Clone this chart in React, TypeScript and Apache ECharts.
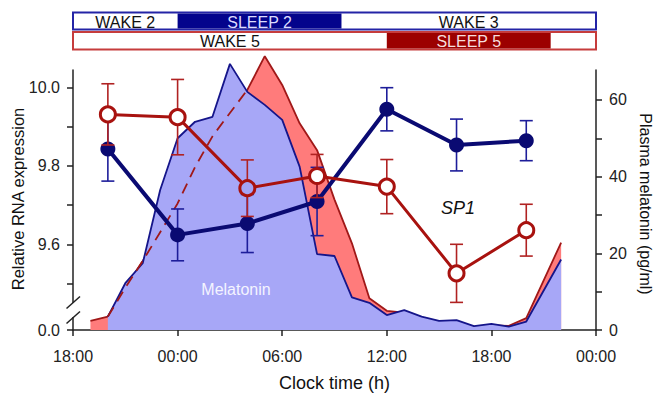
import React, { useEffect, useRef } from 'react';
import * as echarts from 'echarts';

// ---- data ----
const xTickHours = [0, 6, 12, 18, 24, 30]; // hours since 18:00
const startClock = 18;

const rnaHours = [2, 6, 10, 14, 18, 22, 26];
const sleep2Rna = [9.843, 9.624, 9.653, 9.709, 9.944, 9.853, 9.864];
const sleep2Err = [0.082, 0.066, 0.074, 0.087, 0.055, 0.066, 0.051];
const wake5Rna = [9.931, 9.924, 9.743, 9.774, 9.747, 9.526, 9.636];
const wake5Err = [0.078, 0.096, 0.072, 0.055, 0.069, 0.074, 0.066];

const melHours = [1, 2, 3, 4, 5, 6, 7, 8, 9, 10, 11, 12, 13, 14, 15, 16, 17, 18, 19, 20, 21, 22, 23, 24, 25, 26, 28];
const melWake5 = [2.4, 3.5, 11, 18, 25.5, 33, 42.5, 50.5, 56.6, 62.6, 71.4, 63.9, 53.9, 46.9, 34, 22.6, 8.3, 5.0, 4.5, 3.0, 2.0, 2.0, 0.8, 1.2, 1.1, 3.1, 22.8];
const melSleep2 = [null, 3.5, 12.2, 17.4, 36.5, 50, 54.3, 55.6, 69.4, 62.1, 58.7, 54.8, 42.6, 19.8, 19.3, 8.5, 7.1, 3.9, 5.2, 3.5, 2.4, 2.6, 1.0, 1.6, 0.9, 2.2, 18.4];
const dashedRange = [2, 10];

const rnaLabelTicks = [9.6, 9.8, 10.0];
const rnaMinorTicks = [9.5, 9.6, 9.7, 9.8, 9.9, 10.0];
const melLabelTicks = [0, 20, 40, 60];
const melMinorTicks = [0, 10, 20, 30, 40, 50, 60];

const blueBar = [
  { label: 'WAKE 2', from: 0, to: 6, filled: false },
  { label: 'SLEEP 2', from: 6, to: 15.4, filled: true },
  { label: 'WAKE 3', from: 15.4, to: 30, filled: false },
];
const redBar = [
  { label: 'WAKE 5', from: 0, to: 18, filled: false },
  { label: 'SLEEP 5', from: 18, to: 27.4, filled: true },
  { label: '', from: 27.4, to: 30, filled: false },
];

// ---- layout ----
const W = 660, H = 395;
const GL = 73, GR = 64, GT = 70, GB = 65;
const X_MIN = 0, X_MAX = 30;
const RNA_PX = 392.5; // px per 1.0 unit
const RNA_MIN = 9.6 - 85.7 / RNA_PX;
const RNA_MAX = RNA_MIN + (H - GT - GB) / RNA_PX;
const MEL_MAX = 67.8;
const FONT = '"Liberation Sans", Arial, Helvetica, sans-serif';

const px = (h: number) => GL + ((h - X_MIN) / (X_MAX - X_MIN)) * (W - GL - GR);
const clock = (h: number) => {
  const c = ((startClock + h) % 24 + 24) % 24;
  return (c < 10 ? '0' : '') + c + ':00';
};

const BLUE = '#0a0a72';
const RED = '#a8120f';

function errSeries(hours: number[], vals: number[], errs: number[], color: string, z: number) {
  return {
    type: 'custom',
    xAxisIndex: 0,
    yAxisIndex: 0,
    z,
    silent: true,
    data: hours.map((h, i) => [h, vals[i], errs[i]]),
    encode: { x: 0, y: 1 },
    renderItem: (params: any, api: any) => {
      const x = api.value(0), y = api.value(1), e = api.value(2);
      const top = api.coord([x, y + e]);
      const bot = api.coord([x, y - e]);
      const hw = 6.5;
      const style = { stroke: color, lineWidth: 1.6, fill: 'none' };
      return {
        type: 'group',
        children: [
          { type: 'line', shape: { x1: top[0], y1: top[1], x2: bot[0], y2: bot[1] }, style },
          { type: 'line', shape: { x1: top[0] - hw, y1: top[1], x2: top[0] + hw, y2: top[1] }, style },
          { type: 'line', shape: { x1: bot[0] - hw, y1: bot[1], x2: bot[0] + hw, y2: bot[1] }, style },
        ],
      };
    },
  };
}

function barGraphics(bar: any[], y: number, h: number, border: string, fill: string, fillText: string) {
  const els: any[] = [];
  els.push({
    type: 'rect', shape: { x: px(X_MIN), y, width: px(X_MAX) - px(X_MIN), height: h },
    style: { fill: '#fff', stroke: border, lineWidth: 2 }, z: 10,
  });
  bar.forEach((b) => {
    if (b.filled) {
      els.push({
        type: 'rect', shape: { x: px(b.from), y: y + 1, width: px(b.to) - px(b.from), height: h - 2 },
        style: { fill }, z: 11,
      });
    }
    if (b.label) {
      els.push({
        type: 'text', x: (px(b.from) + px(b.to)) / 2, y: y + h / 2 + 1, z: 12,
        style: {
          text: b.label, fontSize: 16, fontFamily: FONT, fill: b.filled ? fillText : '#111',
          align: 'center', verticalAlign: 'middle', textAlign: 'center', textVerticalAlign: 'middle',
        },
      });
    }
  });
  return els;
}

function txt(text: string, x: number, y: number, size: number, extra: any = {}, rotation = 0) {
  return {
    type: 'text', x, y, rotation, z: 20,
    style: {
      text, fontSize: size, fontFamily: FONT, fill: '#111',
      align: 'center', verticalAlign: 'middle', textAlign: 'center', textVerticalAlign: 'middle',
      ...extra,
    },
  };
}

export default function App() {
  const ref = useRef<HTMLDivElement>(null);
  useEffect(() => {
    if (!ref.current) return;
    const chart = echarts.init(ref.current, null, { renderer: 'svg' });
    const axisColor = '#222';
    const melPairs = (vals: (number | null)[]) => melHours.map((h, i) => [h, vals[i]]);
    const dashed = melHours
      .map((h, i) => [h, melWake5[i]])
      .filter((p) => (p[0] as number) >= dashedRange[0] && (p[0] as number) <= dashedRange[1]);

    const option: any = {
      animation: false,
      grid: { left: GL, right: GR, top: GT, bottom: GB, containLabel: false },
      xAxis: {
        type: 'value', min: X_MIN, max: X_MAX, interval: 6, offset: 4,
        axisLine: { lineStyle: { color: axisColor, width: 1.5 } },
        axisTick: { length: 6, customValues: xTickHours, lineStyle: { color: axisColor, width: 1.5 } },
        axisLabel: {
          fontSize: 16, fontFamily: FONT, color: axisColor, margin: 14,
          customValues: xTickHours,
          formatter: (v: number) => clock(v),
        },
        splitLine: { show: false },
      },
      yAxis: [
        {
          type: 'value', min: RNA_MIN, max: RNA_MAX, position: 'left',
          axisLine: { show: true, lineStyle: { color: axisColor, width: 1.5 } },
          axisTick: { show: true, length: 6, customValues: [RNA_MIN, ...rnaMinorTicks], lineStyle: { color: axisColor, width: 1.5 } },
          axisLabel: {
            fontSize: 16, fontFamily: FONT, color: axisColor, margin: 13,
            customValues: [RNA_MIN, ...rnaLabelTicks],
            formatter: (v: number) => (v < 9.5 ? '0.0' : v.toFixed(1)),
          },
          splitLine: { show: false },
        },
        {
          type: 'value', min: 0, max: MEL_MAX, position: 'right',
          axisLine: { show: true, lineStyle: { color: axisColor, width: 1.5 } },
          axisTick: { show: true, length: 6, customValues: melMinorTicks, lineStyle: { color: axisColor, width: 1.5 } },
          axisLabel: {
            fontSize: 16, fontFamily: FONT, color: axisColor, margin: 13,
            customValues: melLabelTicks,
            formatter: (v: number) => String(Math.round(v)),
          },
          splitLine: { show: false },
        },
      ],
      series: [
        {
          name: 'Melatonin WAKE 5', type: 'line', xAxisIndex: 0, yAxisIndex: 1, z: 1,
          data: melPairs(melWake5), symbol: 'none', clip: false, silent: true,
          lineStyle: { color: '#a01818', width: 1.8 },
          areaStyle: { color: '#ff7b7b', opacity: 1 },
        },
        {
          name: 'Melatonin SLEEP 2', type: 'line', xAxisIndex: 0, yAxisIndex: 1, z: 2,
          data: melPairs(melSleep2), symbol: 'none', clip: false, silent: true,
          lineStyle: { color: '#15158a', width: 1.8 },
          areaStyle: { color: '#a7a7f7', opacity: 1 },
        },
        {
          name: 'Melatonin WAKE 5 (dashed)', type: 'line', xAxisIndex: 0, yAxisIndex: 1, z: 3,
          data: dashed, symbol: 'none', clip: false, silent: true,
          lineStyle: { color: '#a01818', width: 1.8, type: [11, 7] },
        },
        errSeries(rnaHours, sleep2Rna, sleep2Err, '#1d1d9a', 4),
        {
          name: 'SLEEP 2', type: 'line', xAxisIndex: 0, yAxisIndex: 0, z: 5,
          data: rnaHours.map((h, i) => [h, sleep2Rna[i]]),
          symbol: 'circle', symbolSize: 15,
          itemStyle: { color: BLUE },
          lineStyle: { color: BLUE, width: 4 },
        },
        errSeries(rnaHours, wake5Rna, wake5Err, '#b02222', 6),
        {
          name: 'WAKE 5', type: 'line', xAxisIndex: 0, yAxisIndex: 0, z: 7,
          data: rnaHours.map((h, i) => ({
            value: [h, wake5Rna[i]],
            itemStyle: { color: i === 2 ? '#a3a3f5' : '#ffffff', borderColor: RED, borderWidth: 3 },
          })),
          symbol: 'circle', symbolSize: 15,
          itemStyle: { color: '#ffffff', borderColor: RED, borderWidth: 3 },
          lineStyle: { color: RED, width: 3 },
        },
      ],
      graphic: [
        ...barGraphics(blueBar, 12.5, 17, '#2424a6', '#04048c', '#dcdcff'),
        ...barGraphics(redBar, 32, 17.5, '#c63c3c', '#9c0000', '#f6dede'),
        // axis break marks
        { type: 'rect', shape: { x: 69, y: 303, width: 8, height: 14 }, style: { fill: '#fff' }, z: 15 },
        { type: 'line', shape: { x1: 66.5, y1: 308.5, x2: 80, y2: 296.5 }, style: { stroke: '#222', lineWidth: 1.5 }, z: 16 },
        { type: 'line', shape: { x1: 66.5, y1: 323.5, x2: 80, y2: 311.5 }, style: { stroke: '#222', lineWidth: 1.5 }, z: 16 },
        txt('Relative RNA expression', 18, 199, 16.5, {}, Math.PI / 2),
        txt('Plasma melatonin (pg/ml)', 645, 204, 16, {}, -Math.PI / 2),
        txt('Clock time (h)', (GL + W - GR) / 2, 383, 18),
        txt('Melatonin', 236, 289, 16, { fill: '#f4f4ff' }),
        txt('SP1', 458, 208, 18, { fontStyle: 'italic' }),
      ],
    };
    chart.setOption(option);
    return () => chart.dispose();
  }, []);
  return (
    <div
      ref={ref}
      style={{ position: 'fixed', left: 0, top: 0, width: W, height: H, background: '#fff' }}
    />
  );
}
